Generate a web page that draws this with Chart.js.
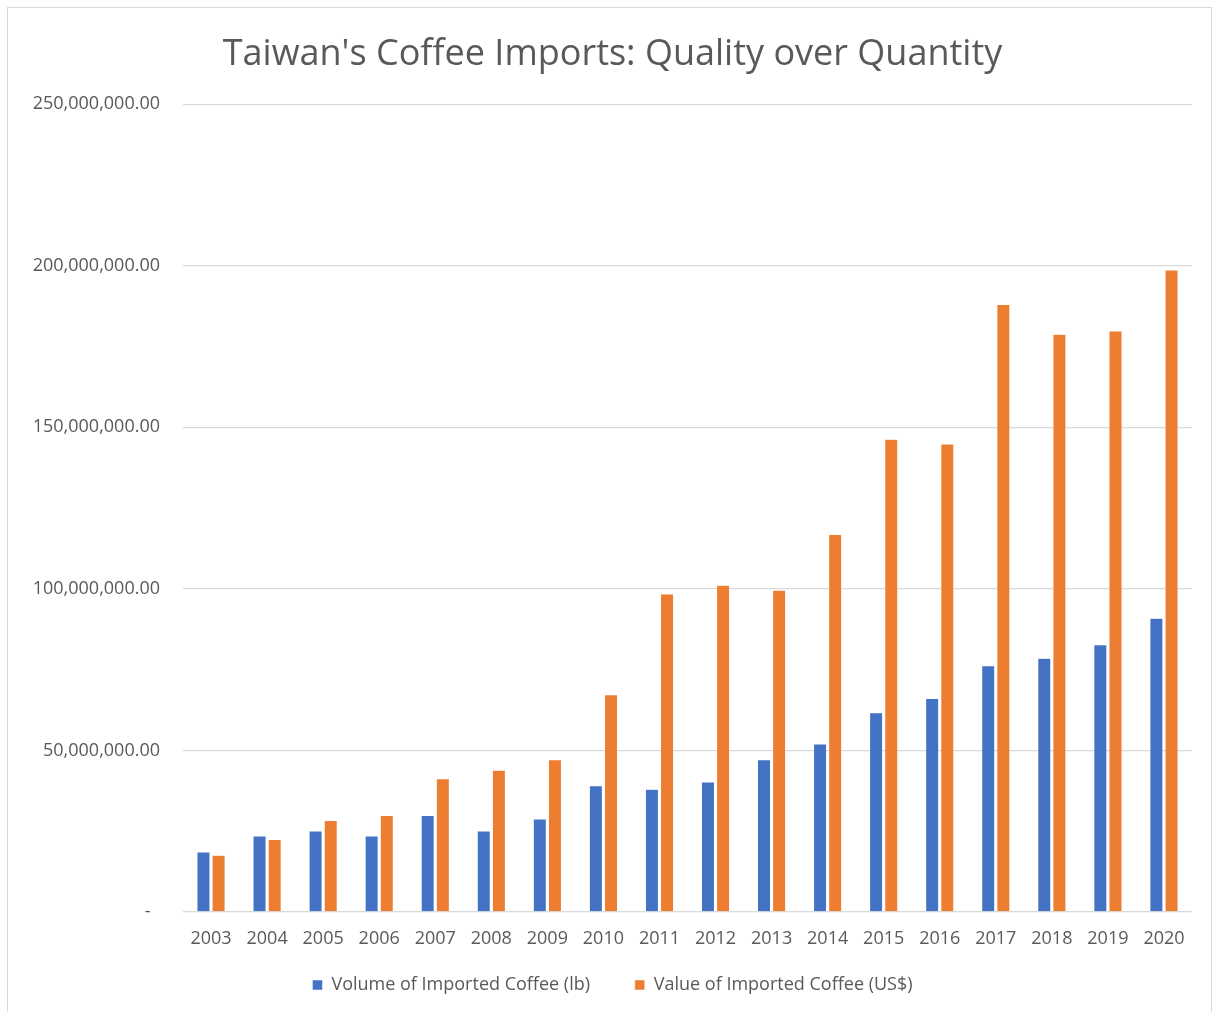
<!DOCTYPE html>
<html>
<head>
<meta charset="utf-8">
<script src="https://cdn.jsdelivr.net/npm/chart.js@4.4.1/dist/chart.umd.min.js"></script>
<style>
  html, body { margin: 0; padding: 0; background: #fff; }
  #box {
    position: absolute; left: 7px; top: 7px;
    width: 1205px; height: 1010px;
    border: 1px solid #d9d9d9; box-sizing: border-box;
  }
</style>
</head>
<body>
<div id="box"><canvas id="myChart"></canvas></div>
<script>
const years = ['2003', '2004', '2005', '2006', '2007', '2008', '2009', '2010', '2011',
    '2012', '2013', '2014', '2015', '2016', '2017', '2018', '2019', '2020'];
const volumeLb = [18.6, 23.5, 25.1, 23.5, 29.9, 25.1, 28.8, 39.1, 38.0,
    40.2, 47.1, 52.0, 61.7, 66.1, 76.2, 78.5, 82.7, 90.9].map(v => v * 1e6);
const valueUsd = [17.6, 22.4, 28.3, 29.9, 41.2, 43.9, 47.1, 67.2, 98.4,
    101.1, 99.6, 116.8, 146.3, 144.8, 188.0, 178.8, 179.8, 198.7].map(v => v * 1e6);
const yTicks = [0, 50e6, 100e6, 150e6, 200e6, 250e6];

const textColor = '#595959';
const font = 'Open Sans';

const ctx = document.getElementById('myChart').getContext('2d');
const box = document.getElementById('box');
ctx.canvas.width = box.clientWidth;
ctx.canvas.height = box.clientHeight;

const myChart = new Chart(ctx, {
    type: 'bar',
    data: {
        labels: years,
        datasets: [{
            label: 'Volume of Imported Coffee (lb)',
            data: volumeLb,
            backgroundColor: '#4472C4',
            borderColor: '#ffffff',
            borderWidth: 0.5
        }, {
            label: 'Value of Imported Coffee (US$)',
            data: valueUsd,
            backgroundColor: '#ED7D31',
            borderColor: '#ffffff',
            borderWidth: 0.5
        }]
    },
    options: {
        responsive: false,
        animation: false,
        categoryPercentage: 0.54,
        barPercentage: 0.86,
        layout: { padding: { left: 25, right: 19, top: 0, bottom: 12 } },
        plugins: {
            title: {
                display: true,
                text: "Taiwan's Coffee Imports: Quality over Quantity",
                color: textColor,
                font: { family: font, size: 36, weight: 'normal' },
                padding: { top: 25, bottom: 28 }
            },
            legend: {
                position: 'bottom',
                labels: {
                    color: textColor,
                    font: { family: font, size: 18 },
                    boxWidth: 10,
                    boxHeight: 10,
                    padding: 26,
                    generateLabels: (chart) => {
                        const items = Chart.defaults.plugins.legend.labels.generateLabels(chart);
                        // wider gap between the two entries, like the original
                        items[0].text = items[0].text + '    ';
                        return items;
                    }
                }
            },
            tooltip: { enabled: false }
        },
        scales: {
            x: {
                afterFit: (scale) => { scale.height = 38; },
                grid: { display: false, drawTicks: false },
                border: { display: false },
                ticks: {
                    color: textColor,
                    font: { family: font, size: 18 },
                    padding: 16,
                    maxRotation: 0
                }
            },
            y: {
                min: 0,
                max: 250e6,
                afterFit: (scale) => { scale.width = 150; },
                afterBuildTicks: (scale) => { scale.ticks = yTicks.map(v => ({ value: v })); },
                grid: { color: '#d9d9d9', lineWidth: 1.3, drawTicks: false },
                border: { display: false },
                ticks: {
                    color: textColor,
                    font: { family: font, size: 18 },
                    padding: 23,
                    callback: (v) => v === 0 ? '-  ' :
                        v.toLocaleString('en-US', { minimumFractionDigits: 2, maximumFractionDigits: 2 })
                }
            }
        }
    }
});
</script>
</body>
</html>
